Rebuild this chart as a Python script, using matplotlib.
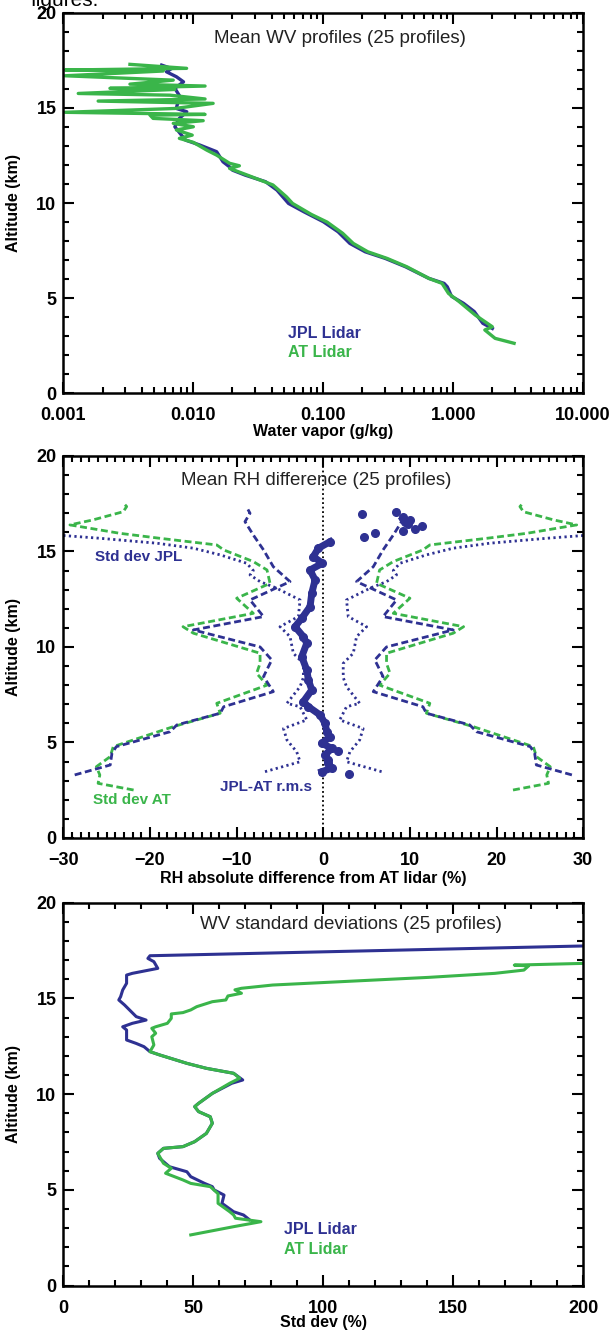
import numpy as np
import matplotlib
matplotlib.use('Agg')
import matplotlib.pyplot as plt
from matplotlib.ticker import MultipleLocator, LogLocator, FuncFormatter, NullFormatter

BLUE = '#2E3192'
GREEN = '#3AB54A'

# ---- panel 1: mean water vapour profiles (g/kg vs km) ----
wv_jpl_alt = [17.25, 17.07, 16.9, 16.64, 16.37, 16.03, 15.59, 15.15, 14.97, 14.8, 14.45,
              14.01, 13.57, 13.31, 13.05, 12.7, 12.17, 11.9, 11.73, 11.47, 11.12, 10.68,
              9.98, 9.54, 9.02, 8.49, 7.88, 7.44, 7.09, 6.65, 6.04, 5.78, 5.6, 5.1, 4.73,
              4.3, 3.68, 3.41]
wv_jpl = [0.0057, 0.0068, 0.0062, 0.0074, 0.0084, 0.0072, 0.0079, 0.0075, 0.0074, 0.0089,
          0.0078, 0.0072, 0.0081, 0.0087, 0.0112, 0.0151, 0.0169, 0.019, 0.020, 0.025,
          0.036, 0.044, 0.054, 0.071, 0.100, 0.13, 0.16, 0.21, 0.30, 0.43, 0.65, 0.85,
          0.90, 0.97, 1.20, 1.45, 1.69, 2.0]

wv_at_alt = [17.29, 17.08, 16.99, 16.94, 16.69, 16.46, 16.25, 16.15, 16.03, 15.97, 15.76,
             15.67, 15.47, 15.36, 15.24, 14.97, 14.77, 14.66, 14.62, 14.45, 14.33, 14.19,
             14.01, 13.84, 13.57, 13.4, 13.19, 12.78, 12.52, 12.09, 11.96, 11.82, 11.47,
             10.95, 10.33, 9.98, 9.4, 9.0, 8.41, 7.88, 7.44, 7.09, 6.65, 6.04, 5.78, 5.25,
             4.8, 4.11, 3.5, 3.33, 2.89, 2.63]
wv_at = [0.00325, 0.00887, 0.00103, 0.00586, 0.00103, 0.0070, 0.00325, 0.0123, 0.00228,
         0.0072, 0.0013, 0.0066, 0.0123, 0.00185, 0.0142, 0.0072, 0.00103, 0.0123, 0.00464,
         0.0049, 0.0119, 0.0070, 0.0100, 0.0074, 0.0098, 0.0078, 0.0100, 0.0127, 0.0151,
         0.019, 0.0226, 0.019, 0.026, 0.041, 0.052, 0.058, 0.081, 0.107, 0.141, 0.17,
         0.22, 0.31, 0.44, 0.65, 0.82, 0.92, 1.12, 1.48, 2.0, 1.75, 2.1, 2.94]

# ---- panel 2: RH difference, profiles of the negative side (mirrored to +) ----
sd_at_alt = [2.51, 2.86, 3.30, 3.73, 4.26, 4.78, 5.83, 6.53, 7.05, 8.0, 8.62, 9.14, 9.67,
             10.72, 11.06, 11.76, 12.55, 13.33, 14.03, 14.47, 15.08, 15.34, 15.69, 15.95,
             16.39, 16.65, 17.08, 17.35, 17.5]
sd_at = [-21.9, -26.0, -25.8, -26.2, -24.6, -24.25, -17.3, -11.9, -12.3, -6.5, -7.7, -7.3,
         -7.3, -15.0, -16.2, -8.08, -10.0, -6.15, -6.5, -8.08, -11.5, -12.3, -18.9, -23.5,
         -29.25, -26.6, -23.1, -22.7, -23.0]

sd_jpl_alt = [3.30, 3.82, 4.43, 4.78, 5.56, 5.92, 6.53, 6.87, 7.66, 8.45, 9.32, 10.0, 10.89,
              11.59, 12.46, 13.42, 14.2, 15.08, 15.86, 16.56, 17.0, 17.2]
sd_jpl = [-28.7, -24.6, -24.4, -23.9, -17.7, -16.9, -11.9, -11.5, -5.77, -6.9, -5.95, -7.3,
          -15.0, -6.9, -8.46, -3.84, -5.77, -6.9, -8.08, -9.04, -8.46, -8.7]

rms_alt = [3.47, 3.99, 4.51, 5.13, 5.73, 6.18, 6.87, 7.05, 7.92, 8.4, 9.14, 9.67, 10.54,
           11.06, 11.59, 12.46, 13.1, 13.42, 13.77, 14.0, 14.38, 14.82, 15.17, 15.43,
           15.69, 15.85]
rms = [-6.73, -2.68, -3.07, -4.2, -4.6, -1.9, -2.68, -4.2, -2.68, -2.3, -2.3, -3.46, -3.84,
       -5.0, -2.88, -2.68, -5.5, -7.3, -8.46, -8.08, -8.84, -11.9, -15.0, -19.2, -25.8, -30.5]

mean_alt = [3.47, 3.65, 3.9, 4.08, 4.35, 4.69, 4.96, 5.3, 5.57, 6.0, 6.44, 6.87, 7.14, 7.75,
            8.27, 8.8, 9.49, 10.19, 10.54, 11.06, 11.5, 12.11, 12.81, 13.51, 14.03, 14.38,
            14.73, 15.17, 15.51]
mean_diff = [-0.18, 0.98, 0.5, 0.59, 0.2, 0.98, -0.18, 0.78, 0.4, 0.2, -0.37, -1.72, -2.3,
             -1.33, -1.72, -1.91, -2.49, -1.91, -2.3, -3.26, -2.49, -1.53, -1.33, -0.95,
             -1.53, -0.1, -1.15, -0.57, 0.78]
odd_alt = [4.57, 3.35, 15.78, 15.95, 16.96, 17.09, 16.82, 16.56, 16.65, 16.44, 16.07, 16.16,
           16.33]
odd_diff = [1.74, 3.0, 4.71, 5.98, 4.44, 8.4, 9.25, 9.44, 10.0, 9.82, 9.17, 10.6, 11.37]

# ---- panel 3: WV standard deviations (%) ----
std_jpl_alt = [17.74, 17.23, 17.09, 16.92, 16.57, 16.31, 16.22, 15.79, 15.44, 15.09, 14.92,
               14.66, 14.05, 13.87, 13.70, 13.52, 13.35, 12.83, 12.65, 12.48, 12.22, 12.05,
               11.61, 11.35, 11.09, 10.74, 10.57, 10.04, 9.52, 9.35, 9.09, 8.82, 8.48, 7.95,
               7.52, 7.26, 7.17, 6.91, 6.65, 6.21, 5.95, 5.69, 5.34, 5.17, 5.00, 4.73, 4.30,
               3.86, 3.69, 3.45]
std_jpl = [200, 33.3, 32.5, 34.8, 36.3, 26.5, 24.3, 24.3, 22.8, 22.0, 21.3, 23.5, 28.0, 31.8,
           26.5, 22.8, 24.3, 24.3, 28.0, 31.0, 33.3, 37.0, 47.5, 55.0, 65.5, 69.0, 64.8, 57.3,
           52.0, 50.5, 52.0, 56.5, 57.3, 55.0, 50.5, 46.0, 38.5, 36.3, 37.0, 40.8, 47.5, 49.0,
           54.3, 57.3, 58.0, 61.8, 61.0, 65.5, 69.3, 71.5]
std_at_alt = [16.83, 16.74, 16.70, 16.48, 16.31, 16.1, 15.82, 15.70, 15.53, 15.45, 15.27,
              15.13, 14.92, 14.83, 14.57, 14.40, 14.26, 14.19, 13.96, 13.70, 13.52, 13.44,
              13.18, 13.00, 12.57, 12.22, 12.05, 11.61, 11.35, 11.09, 10.83, 10.57, 10.04,
              9.52, 9.35, 9.09, 8.82, 8.48, 7.95, 7.52, 7.26, 7.17, 6.91, 6.39, 6.13, 5.87,
              5.52, 5.34, 5.17, 4.80, 4.30, 3.86, 3.69, 3.52, 3.34, 3.08, 2.65]
std_at = [200, 173.5, 179, 177.2, 166, 140.5, 98.5, 80.5, 68.5, 66, 68.5, 63.3, 62.5, 57.3,
          51.3, 49.0, 46.0, 41.5, 41.5, 40.0, 35.5, 34.0, 35.5, 34.0, 34.8, 33.3, 37.0, 47.5,
          55.0, 65.5, 67.8, 64.0, 57.3, 52.0, 50.5, 52.0, 56.5, 57.3, 55.0, 50.5, 46.0, 38.5,
          36.3, 38.5, 41.5, 39.3, 46.0, 49.0, 56.5, 59.5, 59.5, 64.0, 65.5, 66.2, 76.0, 65.5,
          49.0]

plt.rcParams['font.family'] = ['Liberation Sans', 'DejaVu Sans']
plt.rcParams['font.weight'] = 'bold'
plt.rcParams['axes.labelweight'] = 'bold'


def style_axes(ax):
    for sp in ax.spines.values():
        sp.set_linewidth(1.8)
    ax.tick_params(which='both', direction='in', top=True, right=True, width=1.5,
                   labelsize=13, pad=5)
    ax.tick_params(axis='x', which='both', pad=10)
    ax.tick_params(which='major', length=8)
    ax.tick_params(which='minor', length=4)
    ax.set_ylim(0, 20)
    ax.yaxis.set_major_locator(MultipleLocator(5))
    ax.yaxis.set_minor_locator(MultipleLocator(1))
    ax.set_ylabel('Altitude (km)', fontsize=11.5)
    ax.yaxis.set_label_coords(-0.082, 0.5)


fig = plt.figure(figsize=(6.1, 13.32), dpi=100)
fig.text(0.05, 0.9955, 'figures.', fontsize=15, fontweight='normal', va='baseline')

# panel 1
ax1 = fig.add_axes([0.104, 0.7047, 0.852, 0.2857])
ax1.plot(wv_jpl, wv_jpl_alt, color=BLUE, lw=2.4)
ax1.plot(wv_at, wv_at_alt, color=GREEN, lw=2.4)
ax1.set_xscale('log')
ax1.set_xlim(1e-3, 10)
ax1.xaxis.set_major_locator(LogLocator(base=10, numticks=10))
ax1.xaxis.set_minor_locator(LogLocator(base=10, subs=np.arange(2, 10), numticks=20))
ax1.xaxis.set_major_formatter(FuncFormatter(lambda v, p: f'{v:.3f}'))
ax1.xaxis.set_minor_formatter(NullFormatter())
style_axes(ax1)
ax1.set_xlabel('Water vapor (g/kg)', fontsize=11.5)
ax1.xaxis.set_label_coords(0.5, -0.1)
ax1.xaxis.label.set_va('center')
ax1.text(0.532, 0.933, 'Mean WV profiles (25 profiles)', transform=ax1.transAxes,
         ha='center', va='center', fontsize=13.5, fontweight='normal', color='#222222')
ax1.text(0.432, 0.158, 'JPL Lidar', transform=ax1.transAxes, color=BLUE, fontsize=11.5,
         va='center')
ax1.text(0.432, 0.107, 'AT Lidar', transform=ax1.transAxes, color=GREEN, fontsize=11.5,
         va='center')

# panel 2
ax2 = fig.add_axes([0.104, 0.3709, 0.852, 0.2868])
dash = (0, (2.5, 1.3))
dots = (0, (0.8, 1.2))
for sgn in (-1, 1):
    ax2.plot(sgn * np.array(sd_at), sd_at_alt, color=GREEN, lw=2.0, linestyle=dash)
    ax2.plot(sgn * np.array(sd_jpl), sd_jpl_alt, color=BLUE, lw=2.0, linestyle=dash)
    ax2.plot(sgn * np.array(rms), rms_alt, color=BLUE, lw=2.0, linestyle=dots)
ax2.axvline(0, color='black', lw=1.3, linestyle=(0, (1, 1.5)))
ax2.plot(mean_diff, mean_alt, color=BLUE, lw=5, marker='o', ms=5.5)
ax2.plot(odd_diff, odd_alt, color=BLUE, lw=0, marker='o', ms=5.5)
ax2.set_xlim(-30, 30)
ax2.xaxis.set_major_locator(MultipleLocator(10))
ax2.xaxis.set_minor_locator(MultipleLocator(1))
style_axes(ax2)
ax2.set_xlabel('RH absolute difference from AT lidar (%)', fontsize=11.5)
ax2.xaxis.set_label_coords(0.48, -0.105)
ax2.xaxis.label.set_va('center')
ax2.text(0.486, 0.935, 'Mean RH difference (25 profiles)', transform=ax2.transAxes,
         ha='center', va='center', fontsize=13.5, fontweight='normal', color='#222222')
ax2.text(-26.3, 14.7, 'Std dev JPL', color=BLUE, fontsize=11, va='center')
ax2.text(-26.6, 1.99, 'Std dev AT', color=GREEN, fontsize=11, va='center')
ax2.text(-11.9, 2.69, 'JPL-AT r.m.s', color=BLUE, fontsize=11, va='center')

# panel 3
ax3 = fig.add_axes([0.104, 0.0348, 0.852, 0.2875])
ax3.plot(std_jpl, std_jpl_alt, color=BLUE, lw=2.2)
ax3.plot(std_at, std_at_alt, color=GREEN, lw=2.2)
ax3.set_xlim(0, 200)
ax3.xaxis.set_major_locator(MultipleLocator(50))
ax3.xaxis.set_minor_locator(MultipleLocator(10))
style_axes(ax3)
ax3.set_xlabel('Std dev (%)', fontsize=11.5)
ax3.xaxis.set_label_coords(0.5, -0.097)
ax3.xaxis.label.set_va('center')
ax3.text(0.553, 0.942, 'WV standard deviations (25 profiles)', transform=ax3.transAxes,
         ha='center', va='center', fontsize=13.5, fontweight='normal', color='#222222')
ax3.text(0.425, 0.1455, 'JPL Lidar', transform=ax3.transAxes, color=BLUE, fontsize=11.5,
         va='center')
ax3.text(0.425, 0.095, 'AT Lidar', transform=ax3.transAxes, color=GREEN, fontsize=11.5,
         va='center')

fig.savefig('out.png', dpi=100)
